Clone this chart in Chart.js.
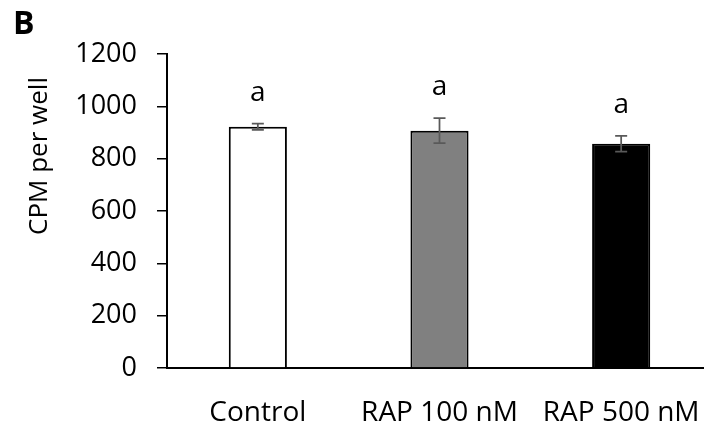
<!DOCTYPE html>
<html>
<head>
<meta charset="utf-8">
<script src="https://cdn.jsdelivr.net/npm/chart.js@4"></script>
<style>
  html, body { margin: 0; padding: 0; background: #fff; overflow: hidden; }
  #wrap { width: 712px; height: 430px; position: relative; }
</style>
</head>
<body>
<div id="wrap"><canvas id="chart"></canvas></div>
<script>
// Data
const categories = ['Control', 'RAP 100 nM', 'RAP 500 nM'];
const means = [922, 907, 857];
const errors = [12, 48, 30];
const letters = ['a', 'a', 'a'];
const fills = ['#FFFFFF', '#808080', '#000000'];
const yTicks = [0, 200, 400, 600, 800, 1000, 1200];

const FONT = '"Open Sans", "Liberation Sans", sans-serif';

// error bars, letters, panel letter and y title
const extrasPlugin = {
    id: 'extras',
    afterDatasetsDraw(chart) {
        const ctx = chart.ctx;
        const x = chart.scales.x;
        const y = chart.scales.y;
        ctx.save();
        means.forEach((m, i) => {
            const cx = x.getPixelForValue(i);
            const top = y.getPixelForValue(m + errors[i]);
            const bot = y.getPixelForValue(m - errors[i]);
            ctx.strokeStyle = '#595959';
            ctx.lineWidth = 1.75;
            ctx.beginPath();
            ctx.moveTo(cx, top); ctx.lineTo(cx, bot);
            ctx.moveTo(cx - 6, top); ctx.lineTo(cx + 6, top);
            ctx.moveTo(cx - 6, bot); ctx.lineTo(cx + 6, bot);
            ctx.stroke();

            ctx.fillStyle = '#000';
            ctx.font = '28px ' + FONT;
            ctx.textAlign = 'center';
            ctx.textBaseline = 'middle';
            ctx.fillText(letters[i], cx, top - 31);
        });

        ctx.fillStyle = '#000';
        ctx.font = 'bold 32px ' + FONT;
        ctx.textAlign = 'left';
        ctx.textBaseline = 'middle';
        ctx.fillText('B', 13, 25);

        ctx.translate(40, 156);
        ctx.rotate(-Math.PI / 2);
        ctx.font = '26px ' + FONT;
        ctx.textAlign = 'center';
        ctx.fillText('CPM per well', 0, 0);
        ctx.restore();
    }
};

new Chart(document.getElementById('chart'), {
    type: 'bar',
    data: {
        labels: categories,
        datasets: [{
            data: means,
            backgroundColor: fills,
            borderColor: '#000000',
            borderWidth: 2,
            barPercentage: 0.32,
            categoryPercentage: 1
        }]
    },
    options: {
        responsive: true,
        maintainAspectRatio: false,
        animation: false,
        devicePixelRatio: 1,
        layout: { padding: { top: 54, left: 0, right: 0, bottom: 0 } },
        plugins: {
            legend: { display: false },
            tooltip: { enabled: false }
        },
        scales: {
            x: {
                grid: { display: false },
                border: { display: true, color: '#000', width: 2 },
                ticks: { color: '#000', font: { family: FONT, size: 28 }, padding: 20, maxRotation: 0 },
                afterFit(scale) {
                    scale.height = 62;
                    scale.paddingLeft = 0;
                    scale.paddingRight = 0;
                }
            },
            y: {
                min: 0,
                max: 1200,
                afterBuildTicks(scale) { scale.ticks = yTicks.map(v => ({ value: v })); },
                grid: { drawOnChartArea: false, drawTicks: true, tickLength: 10, color: '#000', lineWidth: 1.5 },
                border: { display: true, color: '#000', width: 2 },
                ticks: { color: '#000', font: { family: FONT, size: 27 }, padding: 20, callback: v => String(v) },
                afterFit(scale) { scale.width = 167; }
            }
        }
    },
    plugins: [extrasPlugin]
});
</script>
</body>
</html>
